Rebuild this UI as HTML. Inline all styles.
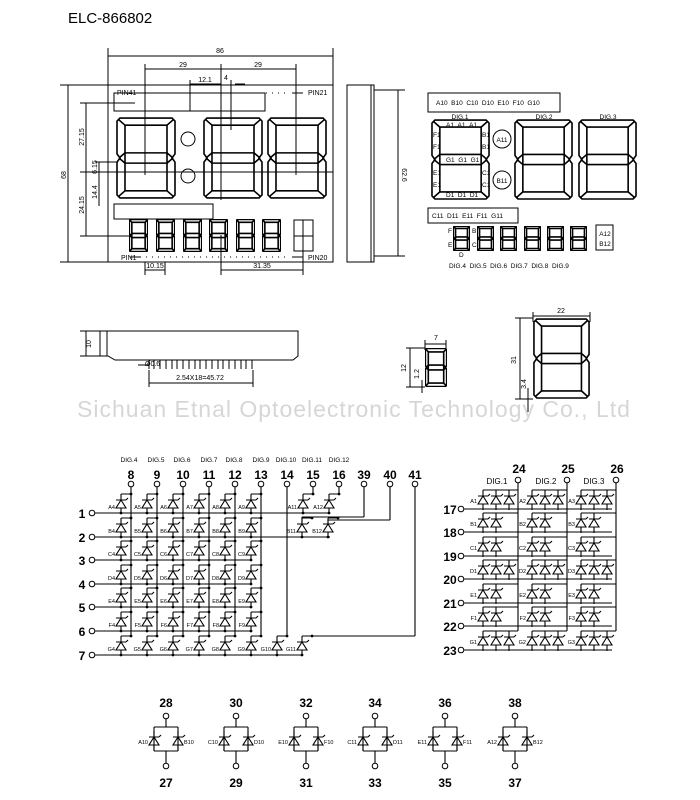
<!DOCTYPE html>
<html><head><meta charset="utf-8"><style>
html,body{margin:0;padding:0;background:#fff}
svg{display:block;font-family:"Liberation Sans",sans-serif}
</style></head><body>
<svg width="700" height="800" viewBox="0 0 700 800" xmlns="http://www.w3.org/2000/svg">
<defs>
<symbol id="big" viewBox="0 0 60 80" preserveAspectRatio="none">
<g fill="none" stroke="#000" stroke-width="1.6" vector-effect="non-scaling-stroke">
<polygon points="4,1 56,1 59,4 59,36 56,40 59,44 59,76 56,79 4,79 1,76 1,44 4,40 1,36 1,4" vector-effect="non-scaling-stroke"/>
<rect x="9" y="8" width="42" height="27" vector-effect="non-scaling-stroke"/>
<rect x="9" y="45" width="42" height="27" vector-effect="non-scaling-stroke"/>
<path d="M2,2L9,8M58,2L51,8M2,78L9,72M58,78L51,72M3,40L9,35M3,40L9,45M57,40L51,35M57,40L51,45M9,35V45M51,35V45" vector-effect="non-scaling-stroke"/>
</g></symbol>
<symbol id="cell" overflow="visible"><path d="M-10,-19H0M-10,-19V-13M-15,-13H-5M-15,-5H-5L-10,-13ZM-10,-5V0M-5,-13l2,-2" fill="none" stroke="#000" stroke-width="1.1"/><circle cx="0" cy="-19" r="1.4"/><circle cx="-10" cy="0" r="1.4"/></symbol>
<symbol id="dd" overflow="visible"><path d="M0,-10V-4M-5,-4H5M-5,4H5L0,-4ZM0,4V10M5,-4l2,-2" fill="none" stroke="#000" stroke-width="1.1"/></symbol>
</defs>

<text x="68" y="23" font-size="15">ELC-866802</text>

<!-- front view -->
<g fill="none" stroke="#000" stroke-width="1">
<rect x="108" y="85" width="225" height="177"/>
<rect x="114" y="93" width="151" height="18"/>
<rect x="114" y="204" width="99" height="15"/>
<circle cx="188" cy="139" r="7"/><circle cx="188" cy="176" r="7"/>
<rect x="294" y="220" width="19" height="31"/><path d="M303,220V251M294,236H313"/>
<path d="M108,56H333M108,48V85M333,48V85"/>
<path d="M145,69H296M145,64V175M221,64V200M296,64V175M190,84H221M190,80V111M231,80V130M235,84H245"/>
<path d="M68,85V262M60,85H108M60,262H108M86,103V236M80,103H135M80,172H333M80,236H130M99,162V206M95,162H118"/>
<path d="M145,270H165M145,262V275M165,262V275M221,270H303M221,235V275M303,235V275"/>
<path d="M140,93H290M140,257H290" stroke-dasharray="1,5"/>
<path d="M130,93H140M292,93H303M130,257H140M292,257H303"/>
</g>
<use href="#big" x="116" y="117" width="60" height="82"/>
<use href="#big" x="203" y="117" width="60" height="82"/>
<use href="#big" x="267" y="117" width="60" height="82"/>
<use href="#big" x="129" y="219" width="19" height="33"/>
<use href="#big" x="156" y="219" width="19" height="33"/>
<use href="#big" x="183" y="219" width="19" height="33"/>
<use href="#big" x="209" y="219" width="19" height="33"/>
<use href="#big" x="236" y="219" width="19" height="33"/>
<use href="#big" x="262" y="219" width="19" height="33"/>
<g font-size="7" font-family="Liberation Sans Narrow,Liberation Sans,sans-serif">
<text x="220" y="53" text-anchor="middle">86</text>
<text x="183" y="67" text-anchor="middle">29</text><text x="258" y="67" text-anchor="middle">29</text>
<text x="205" y="82" text-anchor="middle">12.1</text><text x="226" y="80" text-anchor="middle">4</text>
<text x="117" y="95">PIN41</text><text x="308" y="95">PIN21</text>
<text x="121" y="260">PIN1</text><text x="308" y="260">PIN20</text>
<text x="155" y="268" text-anchor="middle">10.15</text><text x="262" y="268" text-anchor="middle">31.35</text>
<text transform="translate(66,175) rotate(-90)" text-anchor="middle">68</text>
<text transform="translate(84,137) rotate(-90)" text-anchor="middle">27.15</text>
<text transform="translate(84,205) rotate(-90)" text-anchor="middle">24.15</text>
<text transform="translate(97,167) rotate(-90)" text-anchor="middle">6.15</text>
<text transform="translate(97,192) rotate(-90)" text-anchor="middle">14.4</text>
<text transform="translate(402,175) rotate(90)" text-anchor="middle">62.6</text>
</g>

<!-- side view -->
<g fill="none" stroke="#000" stroke-width="1">
<rect x="347" y="85" width="27" height="177"/><path d="M371,85V262M374,90H405M374,256H405M398,90V256"/>
</g>

<!-- right top schematic -->
<g fill="none" stroke="#000" stroke-width="1">
<rect x="428" y="93" width="132" height="19"/>
<rect x="428" y="208" width="90" height="15"/>
<circle cx="502" cy="139" r="9"/><circle cx="502" cy="180" r="9"/>
<rect x="596" y="225" width="17" height="25"/>
</g>
<use href="#big" x="431" y="119" width="59" height="81"/>
<use href="#big" x="514" y="119" width="59" height="81"/>
<use href="#big" x="578" y="119" width="59" height="81"/>
<use href="#big" x="453" y="226" width="17" height="25"/>
<use href="#big" x="477" y="226" width="17" height="25"/>
<use href="#big" x="500" y="226" width="17" height="25"/>
<use href="#big" x="524" y="226" width="17" height="25"/>
<use href="#big" x="547" y="226" width="17" height="25"/>
<use href="#big" x="570" y="226" width="17" height="25"/>
<g font-size="6.5">
<text x="436" y="105">A10 &#160;B10 &#160;C10 &#160;D10 &#160;E10 &#160;F10 &#160;G10</text>
<text x="460" y="119" text-anchor="middle">DIG.1</text><text x="544" y="119" text-anchor="middle">DIG.2</text><text x="608" y="119" text-anchor="middle">DIG.3</text>
<text x="446" y="127">A1 &#160;A1 &#160;A1</text><text x="446" y="162">G1 &#160;G1 &#160;G1</text><text x="446" y="197">D1 &#160;D1 &#160;D1</text>
<text x="433" y="137">F1</text><text x="433" y="149">F1</text><text x="433" y="175">E1</text><text x="433" y="187">E1</text>
<text x="482" y="137">B1</text><text x="482" y="149">B1</text><text x="482" y="175">C1</text><text x="482" y="187">C1</text>
<text x="502" y="142" text-anchor="middle">A11</text><text x="502" y="183" text-anchor="middle">B11</text>
<text x="432" y="218">C11 &#160;D11 &#160;E11 &#160;F11 &#160;G11</text>
<text x="605" y="236" text-anchor="middle">A12</text><text x="605" y="246" text-anchor="middle">B12</text>
<text x="448" y="233">F</text><text x="448" y="247">E</text><text x="472" y="233">B</text><text x="472" y="247">C</text><text x="459" y="257">D</text>
<text x="449" y="268">DIG.4 &#160;DIG.5 &#160;DIG.6 &#160;DIG.7 &#160;DIG.8 &#160;DIG.9</text>
</g>

<!-- middle -->
<g fill="none" stroke="#000" stroke-width="1">
<path d="M100,331H298V356L293,360H115L108,356H100ZM107,331V356"/>
<path d="M149,360V369M154,360V369M160,360V369M166,360V369M172,360V369M177,360V369M183,360V369M189,360V369M195,360V369M200,360V369M206,360V369M212,360V369M218,360V369M223,360V369M229,360V369M235,360V369M241,360V369M246,360V369M252,360V369"/>
<path d="M149,383H253M149,370V387M253,370V387M86,331V356M80,331H100M80,356H100M138,365H149"/>
<path d="M425,344H446M425,340V350M446,340V350M410,348V387M406,348H425M406,387H425M422,380V393"/>
<path d="M533,316H590M533,312V322M590,312V322M520,318V399M515,318H533M515,399H533M528,388V412"/>
</g>
<use href="#big" x="425" y="348" width="22" height="39"/>
<use href="#big" x="533" y="318" width="57" height="81"/>
<g font-size="7">
<text x="200" y="380" text-anchor="middle">2.54X18=45.72</text><text x="145" y="366">Ø0.6</text>
<text transform="translate(91,344) rotate(-90)" text-anchor="middle">10</text>
<text x="436" y="340" text-anchor="middle">7</text><text x="561" y="313" text-anchor="middle">22</text>
<text transform="translate(406,368) rotate(-90)" text-anchor="middle">12</text>
<text transform="translate(419,374) rotate(-90)" text-anchor="middle">1.2</text>
<text transform="translate(516,360) rotate(-90)" text-anchor="middle">31</text>
<text transform="translate(526,384) rotate(-90)" text-anchor="middle">3.4</text>
</g>
<text x="354" y="417" font-size="23" fill="#d6d6d6" text-anchor="middle" letter-spacing="1">Sichuan Etnal Optoelectronic Technology Co., Ltd</text>

<!-- left matrix -->
<g font-size="6.5" text-anchor="middle">
<text x="129" y="462">DIG.4</text><text x="156" y="462">DIG.5</text><text x="182" y="462">DIG.6</text><text x="209" y="462">DIG.7</text><text x="234" y="462">DIG.8</text><text x="261" y="462">DIG.9</text><text x="286" y="462">DIG.10</text><text x="312" y="462">DIG.11</text><text x="339" y="462">DIG.12</text>
</g>
<g font-size="12" font-weight="bold" text-anchor="middle">
<text x="131" y="479">8</text><text x="157" y="479">9</text><text x="183" y="479">10</text><text x="209" y="479">11</text><text x="235" y="479">12</text><text x="261" y="479">13</text><text x="287" y="479">14</text><text x="313" y="479">15</text><text x="339" y="479">16</text><text x="364" y="479">39</text><text x="390" y="479">40</text><text x="415" y="479">41</text>
<text x="82" y="518">1</text><text x="82" y="542">2</text><text x="82" y="565">3</text><text x="82" y="589">4</text><text x="82" y="612">5</text><text x="82" y="636">6</text><text x="82" y="660">7</text>
</g>
<g fill="#fff" stroke="#000" stroke-width="1">
<circle cx="131" cy="484" r="2.8"/><circle cx="157" cy="484" r="2.8"/><circle cx="183" cy="484" r="2.8"/><circle cx="209" cy="484" r="2.8"/><circle cx="235" cy="484" r="2.8"/><circle cx="261" cy="484" r="2.8"/><circle cx="287" cy="484" r="2.8"/><circle cx="313" cy="484" r="2.8"/><circle cx="339" cy="484" r="2.8"/><circle cx="364" cy="484" r="2.8"/><circle cx="390" cy="484" r="2.8"/><circle cx="415" cy="484" r="2.8"/>
<circle cx="92" cy="513" r="2.8"/><circle cx="92" cy="537" r="2.8"/><circle cx="92" cy="560" r="2.8"/><circle cx="92" cy="584" r="2.8"/><circle cx="92" cy="607" r="2.8"/><circle cx="92" cy="631" r="2.8"/><circle cx="92" cy="655" r="2.8"/>
</g>
<g fill="none" stroke="#000" stroke-width="1.1">
<path d="M131,487V636M157,487V636M183,487V636M209,487V636M235,487V636M261,487V636M287,487V636M313,487V494M339,487V494M364,487V517M390,487V520M415,487V636"/>
<path d="M95,513H330M95,537H330M95,560H252M95,584H252M95,607H252M95,631H252M95,655H303"/>
<path d="M302,517H364M302,517V524M328,520H390M328,520V524M277,636H287M302,636H415"/>
</g>
<g>
<use href="#cell" x="131" y="513"/><use href="#cell" x="157" y="513"/><use href="#cell" x="183" y="513"/><use href="#cell" x="209" y="513"/><use href="#cell" x="235" y="513"/><use href="#cell" x="261" y="513"/><use href="#cell" x="313" y="513"/><use href="#cell" x="339" y="513"/>
<use href="#cell" x="131" y="537"/><use href="#cell" x="157" y="537"/><use href="#cell" x="183" y="537"/><use href="#cell" x="209" y="537"/><use href="#cell" x="235" y="537"/><use href="#cell" x="261" y="537"/><use href="#cell" x="312" y="537"/><use href="#cell" x="338" y="537"/>
<use href="#cell" x="131" y="560"/><use href="#cell" x="157" y="560"/><use href="#cell" x="183" y="560"/><use href="#cell" x="209" y="560"/><use href="#cell" x="235" y="560"/><use href="#cell" x="261" y="560"/>
<use href="#cell" x="131" y="584"/><use href="#cell" x="157" y="584"/><use href="#cell" x="183" y="584"/><use href="#cell" x="209" y="584"/><use href="#cell" x="235" y="584"/><use href="#cell" x="261" y="584"/>
<use href="#cell" x="131" y="607"/><use href="#cell" x="157" y="607"/><use href="#cell" x="183" y="607"/><use href="#cell" x="209" y="607"/><use href="#cell" x="235" y="607"/><use href="#cell" x="261" y="607"/>
<use href="#cell" x="131" y="631"/><use href="#cell" x="157" y="631"/><use href="#cell" x="183" y="631"/><use href="#cell" x="209" y="631"/><use href="#cell" x="235" y="631"/><use href="#cell" x="261" y="631"/>
<use href="#cell" x="131" y="655"/><use href="#cell" x="157" y="655"/><use href="#cell" x="183" y="655"/><use href="#cell" x="209" y="655"/><use href="#cell" x="235" y="655"/><use href="#cell" x="261" y="655"/><use href="#cell" x="287" y="655"/><use href="#cell" x="312" y="655"/>
</g>
<g font-size="5.5" text-anchor="end">
<text x="115" y="509">A4</text><text x="141" y="509">A5</text><text x="167" y="509">A6</text><text x="193" y="509">A7</text><text x="219" y="509">A8</text><text x="245" y="509">A9</text><text x="297" y="509">A11</text><text x="323" y="509">A12</text>
<text x="115" y="533">B4</text><text x="141" y="533">B5</text><text x="167" y="533">B6</text><text x="193" y="533">B7</text><text x="219" y="533">B8</text><text x="245" y="533">B9</text><text x="296" y="533">B11</text><text x="322" y="533">B12</text>
<text x="115" y="556">C4</text><text x="141" y="556">C5</text><text x="167" y="556">C6</text><text x="193" y="556">C7</text><text x="219" y="556">C8</text><text x="245" y="556">C9</text>
<text x="115" y="580">D4</text><text x="141" y="580">D5</text><text x="167" y="580">D6</text><text x="193" y="580">D7</text><text x="219" y="580">D8</text><text x="245" y="580">D9</text>
<text x="115" y="603">E4</text><text x="141" y="603">E5</text><text x="167" y="603">E6</text><text x="193" y="603">E7</text><text x="219" y="603">E8</text><text x="245" y="603">E9</text>
<text x="115" y="627">F4</text><text x="141" y="627">F5</text><text x="167" y="627">F6</text><text x="193" y="627">F7</text><text x="219" y="627">F8</text><text x="245" y="627">F9</text>
<text x="115" y="651">G4</text><text x="141" y="651">G5</text><text x="167" y="651">G6</text><text x="193" y="651">G7</text><text x="219" y="651">G8</text><text x="245" y="651">G9</text><text x="271" y="651">G10</text><text x="296" y="651">G11</text>
</g>

<!-- right matrix -->
<g font-size="12" font-weight="bold" text-anchor="middle">
<text x="519" y="473">24</text><text x="568" y="473">25</text><text x="617" y="473">26</text>
<text x="450" y="514">17</text><text x="450" y="537">18</text><text x="450" y="561">19</text><text x="450" y="584">20</text><text x="450" y="608">21</text><text x="450" y="631">22</text><text x="450" y="655">23</text>
</g>
<g font-size="8" text-anchor="middle"><text x="497" y="484">DIG.1</text><text x="546" y="484">DIG.2</text><text x="594" y="484">DIG.3</text></g>
<g fill="#fff" stroke="#000" stroke-width="1">
<circle cx="518" cy="480" r="2.8"/><circle cx="567" cy="480" r="2.8"/><circle cx="616" cy="480" r="2.8"/>
<circle cx="461" cy="509" r="2.8"/><circle cx="461" cy="532" r="2.8"/><circle cx="461" cy="556" r="2.8"/><circle cx="461" cy="579" r="2.8"/><circle cx="461" cy="603" r="2.8"/><circle cx="461" cy="626" r="2.8"/><circle cx="461" cy="650" r="2.8"/>
</g>
<g fill="none" stroke="#000" stroke-width="1.1">
<path d="M518,483V631M567,483V631M616,483V631"/>
<path d="M464,509H612M464,532H612M464,556H612M464,579H612M464,603H612M464,626H612M464,650H612"/>
<path d="M483,490H518M532,490H567M581,490H616M483,513H518M532,513H567M581,513H616M483,537H518M532,537H567M581,537H616M483,560H518M532,560H567M581,560H616M483,584H518M532,584H567M581,584H616M483,607H518M532,607H567M581,607H616M483,631H518M532,631H567M581,631H616"/>
</g>
<g>
<use href="#dd" x="483" y="500"/><use href="#dd" x="496" y="500"/><use href="#dd" x="509" y="500"/><use href="#dd" x="532" y="500"/><use href="#dd" x="545" y="500"/><use href="#dd" x="558" y="500"/><use href="#dd" x="581" y="500"/><use href="#dd" x="594" y="500"/><use href="#dd" x="607" y="500"/>
<use href="#dd" x="483" y="523"/><use href="#dd" x="496" y="523"/><use href="#dd" x="532" y="523"/><use href="#dd" x="545" y="523"/><use href="#dd" x="581" y="523"/><use href="#dd" x="594" y="523"/>
<use href="#dd" x="483" y="547"/><use href="#dd" x="496" y="547"/><use href="#dd" x="532" y="547"/><use href="#dd" x="545" y="547"/><use href="#dd" x="581" y="547"/><use href="#dd" x="594" y="547"/>
<use href="#dd" x="483" y="570"/><use href="#dd" x="496" y="570"/><use href="#dd" x="509" y="570"/><use href="#dd" x="532" y="570"/><use href="#dd" x="545" y="570"/><use href="#dd" x="558" y="570"/><use href="#dd" x="581" y="570"/><use href="#dd" x="594" y="570"/><use href="#dd" x="607" y="570"/>
<use href="#dd" x="483" y="594"/><use href="#dd" x="496" y="594"/><use href="#dd" x="532" y="594"/><use href="#dd" x="545" y="594"/><use href="#dd" x="581" y="594"/><use href="#dd" x="594" y="594"/>
<use href="#dd" x="483" y="617"/><use href="#dd" x="496" y="617"/><use href="#dd" x="532" y="617"/><use href="#dd" x="545" y="617"/><use href="#dd" x="581" y="617"/><use href="#dd" x="594" y="617"/>
<use href="#dd" x="483" y="641"/><use href="#dd" x="496" y="641"/><use href="#dd" x="509" y="641"/><use href="#dd" x="532" y="641"/><use href="#dd" x="545" y="641"/><use href="#dd" x="558" y="641"/><use href="#dd" x="581" y="641"/><use href="#dd" x="594" y="641"/><use href="#dd" x="607" y="641"/>
</g>
<g font-size="5.5" text-anchor="end">
<text x="477" y="503">A1</text><text x="526" y="503">A2</text><text x="575" y="503">A3</text>
<text x="477" y="526">B1</text><text x="526" y="526">B2</text><text x="575" y="526">B3</text>
<text x="477" y="550">C1</text><text x="526" y="550">C2</text><text x="575" y="550">C3</text>
<text x="477" y="573">D1</text><text x="526" y="573">D2</text><text x="575" y="573">D3</text>
<text x="477" y="597">E1</text><text x="526" y="597">E2</text><text x="575" y="597">E3</text>
<text x="477" y="620">F1</text><text x="526" y="620">F2</text><text x="575" y="620">F3</text>
<text x="477" y="644">G1</text><text x="526" y="644">G2</text><text x="575" y="644">G3</text>
</g>

<!-- bottom pairs -->
<g fill="none" stroke="#000" stroke-width="1.1">
<path d="M166,719V727M154,727H178M154,727V751M178,727V751M154,751H178M166,751V763"/>
<path d="M236,719V727M224,727H248M224,727V751M248,727V751M224,751H248M236,751V763"/>
<path d="M306,719V727M294,727H318M294,727V751M318,727V751M294,751H318M306,751V763"/>
<path d="M375,719V727M363,727H387M363,727V751M387,727V751M363,751H387M375,751V763"/>
<path d="M445,719V727M433,727H457M433,727V751M457,727V751M433,751H457M445,751V763"/>
<path d="M515,719V727M503,727H527M503,727V751M527,727V751M503,751H527M515,751V763"/>
</g>
<g fill="#fff" stroke="#000" stroke-width="1">
<circle cx="166" cy="716" r="2.8"/><circle cx="236" cy="716" r="2.8"/><circle cx="306" cy="716" r="2.8"/><circle cx="375" cy="716" r="2.8"/><circle cx="445" cy="716" r="2.8"/><circle cx="515" cy="716" r="2.8"/>
<circle cx="166" cy="766" r="2.8"/><circle cx="236" cy="766" r="2.8"/><circle cx="306" cy="766" r="2.8"/><circle cx="375" cy="766" r="2.8"/><circle cx="445" cy="766" r="2.8"/><circle cx="515" cy="766" r="2.8"/>
</g>
<use href="#dd" x="154" y="741"/><use href="#dd" x="178" y="741"/><use href="#dd" x="224" y="741"/><use href="#dd" x="248" y="741"/><use href="#dd" x="294" y="741"/><use href="#dd" x="318" y="741"/><use href="#dd" x="363" y="741"/><use href="#dd" x="387" y="741"/><use href="#dd" x="433" y="741"/><use href="#dd" x="457" y="741"/><use href="#dd" x="503" y="741"/><use href="#dd" x="527" y="741"/>
<g font-size="12" font-weight="bold" text-anchor="middle">
<text x="166" y="707">28</text><text x="236" y="707">30</text><text x="306" y="707">32</text><text x="375" y="707">34</text><text x="445" y="707">36</text><text x="515" y="707">38</text>
<text x="166" y="787">27</text><text x="236" y="787">29</text><text x="306" y="787">31</text><text x="375" y="787">33</text><text x="445" y="787">35</text><text x="515" y="787">37</text>
</g>
<g font-size="5.5">
<text x="148" y="744" text-anchor="end">A10</text><text x="184" y="744">B10</text>
<text x="218" y="744" text-anchor="end">C10</text><text x="254" y="744">D10</text>
<text x="288" y="744" text-anchor="end">E10</text><text x="324" y="744">F10</text>
<text x="357" y="744" text-anchor="end">C11</text><text x="393" y="744">D11</text>
<text x="427" y="744" text-anchor="end">E11</text><text x="463" y="744">F11</text>
<text x="497" y="744" text-anchor="end">A12</text><text x="533" y="744">B12</text>
</g>
</svg>
</body></html>
